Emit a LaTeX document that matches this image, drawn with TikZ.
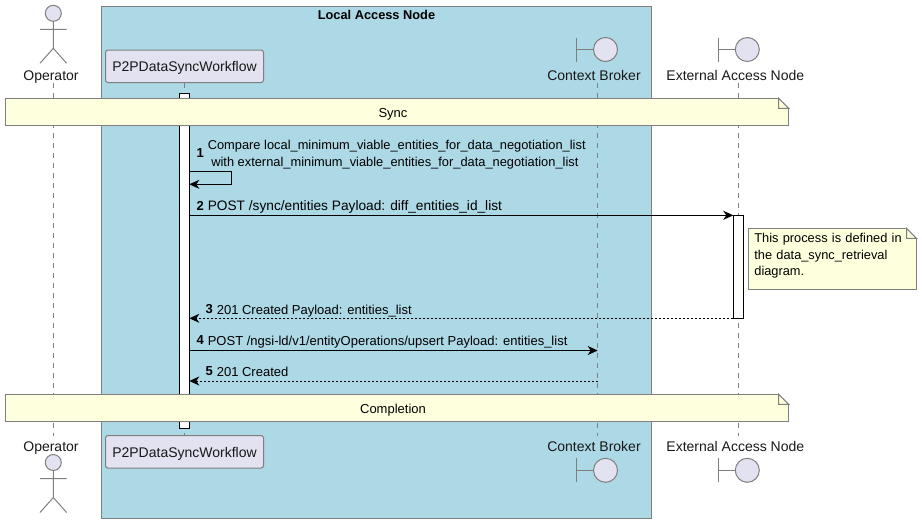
\documentclass[tikz,border=0pt]{standalone}
\usepackage{fontspec}
\setmainfont{Liberation Sans}
\usepackage{tikz}
\usetikzlibrary{arrows.meta, positioning}

\definecolor{linegray}{HTML}{7F7F7F}
\definecolor{partfill}{HTML}{E2E2F0}
\definecolor{notefill}{HTML}{FEFFDD}
\definecolor{boxfill}{HTML}{ADD8E6}
\definecolor{inkdark}{HTML}{181818}

\tikzset{
  namelabel/.style={inner sep=0pt, text height=10pt, text depth=3pt, font=\fontsize{14}{16}\selectfont, text=inkdark},
  msglabel/.style={inner sep=0pt, anchor=west, font=\fontsize{13}{16.4}\selectfont, text=black, align=left},
  msgnum/.style={inner sep=0pt, anchor=west, font=\fontsize{13}{16}\selectfont\bfseries},
  participant/.style={draw=linegray, fill=partfill, rounded corners=2.5pt, minimum width=158pt, minimum height=32.5pt, inner sep=0pt, outer sep=0pt, text height=11pt, text depth=0pt, font=\fontsize{14}{16}\selectfont, text=inkdark},
  lifeline/.style={draw=linegray, dash pattern=on 5pt off 5pt},
  actbar/.style={draw=black, fill=white, minimum width=10pt, inner sep=0pt, outer sep=0pt},
  notebox/.style={draw=linegray, fill=notefill, inner sep=0pt, outer sep=0pt, font=\fontsize{13}{16.6}\selectfont, text=black},
  foldcut/.style={fill=white, draw=white},
  foldflap/.style={fill=notefill, draw=linegray},
  msg/.style={-{Stealth[length=10pt, width=9pt, inset=3pt]}},
  pics/actorfig/.style={code={
    \node[circle, draw=linegray, fill=partfill, minimum size=16pt, inner sep=0pt, outer sep=0pt] (-head) at (0,0) {};
    \draw[linegray] (-head.south) -- (0,35) (-13.3,16) -- (13.3,16) (-13.3,50) -- (0,35) -- (13.3,50);
  }},
  pics/boundaryfig/.style={code={
    \node[circle, draw=linegray, fill=partfill, minimum size=24pt, inner sep=0pt, outer sep=0pt] (-head) at (0,0) {};
    \draw[linegray] (-head.west) -- (-29,0) (-29,-12) -- (-29,12);
  }}
}

\begin{document}
\begin{tikzpicture}[x=1pt, y=-1pt, line width=1pt]
  \useasboundingbox (0,0) rectangle (922,523);

  % grouping box
  \node[draw=linegray, fill=boxfill, minimum width=550pt, minimum height=511.5pt, inner sep=0pt, outer sep=0pt] (LocalBox) at (376.5,262.3) {};
  \node[inner sep=0pt, font=\fontsize{12.8}{15}\selectfont\bfseries, text=black] (LocalTitle) at (376.5,15) {Local Access Node};

  % lifelines
  \coordinate (OpTop) at (53.3,83);
  \coordinate (OpEnd) at (53.3,436);
  \coordinate (WfTop) at (184.3,83);
  \coordinate (WfEnd) at (184.3,435);
  \coordinate (CbTop) at (597.7,83);
  \coordinate (CbEnd) at (597.7,436);
  \coordinate (ExTop) at (738.7,83);
  \coordinate (ExEnd) at (738.7,436);
  \path[lifeline]
    (OpTop) edge (OpEnd)
    (WfTop) edge (WfEnd)
    (CbTop) edge (CbEnd)
    (ExTop) edge (ExEnd);

  % participants, top row
  \pic (OpHeadTop) at (53.3,13.3) {actorfig};
  \node[namelabel] (OpNameTop) at (51,76.5) {Operator};
  \node[participant] (WfTopBox) at (184.5,66.3) {P2PDataSyncWorkflow};
  \pic (CbHeadTop) at (605.5,49.5) {boundaryfig};
  \node[namelabel] (CbNameTop) at (594,76.5) {Context Broker};
  \pic (ExHeadTop) at (747.3,49.5) {boundaryfig};
  \node[namelabel] (ExNameTop) at (735.3,76.5) {External Access Node};

  % participants, bottom row
  \pic (OpHeadEnd) at (53.3,462.5) {actorfig};
  \node[namelabel] (OpNameEnd) at (51,447.5) {Operator};
  \node[participant] (WfEndBox) at (184.5,451.8) {P2PDataSyncWorkflow};
  \pic (CbHeadEnd) at (605.5,470.3) {boundaryfig};
  \node[namelabel] (CbNameEnd) at (594,447.5) {Context Broker};
  \pic (ExHeadEnd) at (747.3,470.3) {boundaryfig};
  \node[namelabel] (ExNameEnd) at (735.3,447.5) {External Access Node};

  % activations
  \node[actbar, minimum height=334.5pt] (WfBar) at (184.3,261.2) {};
  \node[actbar, minimum height=103pt] (ExBar) at (738.3,266.8) {};

  % notes
  \node[notebox, minimum width=783.4pt, minimum height=27pt, text height=12pt, text depth=0pt] (SyncNote) at (397,111.8) {Sync\hspace*{8pt}};
  \node[notebox, minimum width=783.4pt, minimum height=27pt, text height=12pt, text depth=0pt] (DoneNote) at (397,407.8) {Completion\hspace*{8pt}};
  \node[notebox, minimum width=168.2pt, minimum height=60.7pt, align=left, text width=156pt, font=\fontsize{12.8}{16.6}\selectfont] (ProcNote) at (832.4,258.7) {\mbox{}\\[-12.6pt]This process is defined in\\the data\_sync\_retrieval\\diagram.};
  \foreach \n in {SyncNote, DoneNote, ProcNote} {
    \path[foldcut] ([xshift=-10pt]\n.north east) -- ([xshift=1pt, yshift=1pt]\n.north east) -- ([xshift=1pt, yshift=-10pt]\n.north east) -- cycle;
    \path[foldflap] ([xshift=-10pt]\n.north east) -- ([yshift=-10pt]\n.north east) -- ([xshift=-10pt, yshift=-10pt]\n.north east) -- cycle;
  }

  % messages
  \coordinate (SelfA) at (189.3,171.7);
  \coordinate (SelfB) at (231.7,171.7);
  \coordinate (SelfC) at (231.7,184.3);
  \coordinate (SelfD) at (189.3,184.3);
  \coordinate (UpsertTo) at (597.7,350.5);
  \coordinate (UpsertFrom) at (189.3,350.5);
  \coordinate (DoneFrom) at (597.7,381);
  \coordinate (DoneTo) at (189.3,381);
  \draw (SelfA) -- (SelfB) -- (SelfC);
  \draw[msg] (SelfC) -- (SelfD);
  \draw[msg] (WfBar.east |- ExBar.north) -- (ExBar.north west);
  \draw[msg, dash pattern=on 2pt off 2pt] (ExBar.south west) -- (WfBar.east |- ExBar.south);
  \draw[msg] (UpsertFrom) -- (UpsertTo);
  \draw[msg, dash pattern=on 2pt off 2pt] (DoneFrom) -- (DoneTo);

  % message labels
  \node[msgnum] (Num1) at (196,153.5) {1};
  \node[msglabel, font=\fontsize{12.85}{16.4}\selectfont] (Msg1) at (207.3,154.5) {Compare local\_minimum\_viable\_entities\_for\_data\_negotiation\_list\\\hspace*{3.5pt}with external\_minimum\_viable\_entities\_for\_data\_negotiation\_list};
  \node[msgnum] (Num2) at (196,205.5) {2};
  \node[msglabel, font=\fontsize{13.7}{16.4}\selectfont] (Msg2) at (207.3,207) {POST /sync/entities Payload: diff\_entities\_id\_list};
  \node[msgnum] (Num3) at (205,309.5) {3};
  \node[msglabel] (Msg3) at (216.3,311) {201 Created Payload: entities\_list};
  \node[msgnum] (Num4) at (196,340.5) {4};
  \node[msglabel] (Msg4) at (207.3,342) {POST /ngsi-ld/v1/entityOperations/upsert Payload: entities\_list};
  \node[msgnum] (Num5) at (205,371) {5};
  \node[msglabel] (Msg5) at (216.3,371.5) {201 Created};
\end{tikzpicture}
\end{document}
